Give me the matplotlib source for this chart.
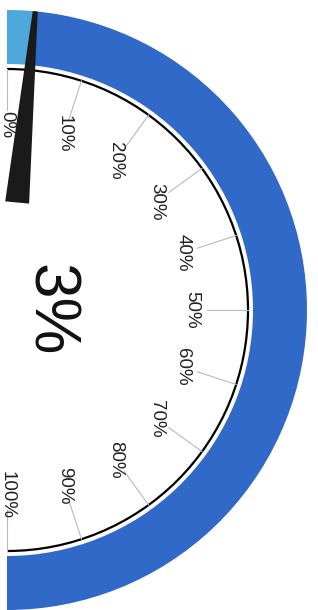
import numpy as np
import matplotlib
matplotlib.use('Agg')
import matplotlib.pyplot as plt
from matplotlib.patches import Wedge, Arc, Polygon

plt.rcParams['font.family'] = ['Liberation Sans', 'DejaVu Sans']

# gauge data
value = 3
tick_values = [0, 10, 20, 30, 40, 50, 60, 70, 80, 90, 100]
tick_labels = ['%d%%' % v for v in tick_values]

dark_blue = '#3069c7'
light_blue = '#4ea8dc'

fig = plt.figure(figsize=(3.18, 6.10), dpi=100)
ax = fig.add_axes([0, 0, 1, 1])
ax.set_xlim(0, 318)
ax.set_ylim(0, 610)
ax.set_aspect('equal')
ax.axis('off')

cx, cy = 7, 300
r_out, r_in, r_line = 300, 246, 241

def ang(v):
    # 0% at top, 100% at bottom (gauge turned on its side)
    return 90 - 1.8 * v

# band
ax.add_patch(Wedge((cx, cy), r_out, ang(value), ang(0), width=r_out - r_in,
                   facecolor=light_blue, edgecolor='none'))
ax.add_patch(Wedge((cx, cy), r_out, ang(100), ang(value), width=r_out - r_in,
                   facecolor=dark_blue, edgecolor='none'))
ax.add_patch(Arc((cx, cy), 2 * r_line, 2 * r_line, theta1=-90, theta2=90,
                 color='black', lw=1.6))

# ticks and labels
for v, lab in zip(tick_values, tick_labels):
    t = np.radians(ang(v))
    ax.plot([cx + 200 * np.cos(t), cx + r_line * np.cos(t)],
            [cy + 200 * np.sin(t), cy + r_line * np.sin(t)],
            color='#b4bacd', lw=0.8)
    ax.text(cx + 185 * np.cos(t), cy + 185 * np.sin(t), lab, rotation=-90,
            ha='center', va='center', fontsize=13.5, color='#222222')

# needle
t = np.radians(ang(value))
u = np.array([np.cos(t), np.sin(t)])
n = np.array([-np.sin(t), np.cos(t)])
c = np.array([cx, cy])
pts = [c + 108 * u + 12 * n, c + 300 * u + 2.5 * n,
       c + 300 * u - 2.5 * n, c + 108 * u - 12 * n]
ax.add_patch(Polygon(pts, closed=True, facecolor='#1a1a1a', edgecolor='none'))

# value text
ax.text(cx + 42, cy, '%d%%' % value, rotation=-90, ha='center', va='center',
        fontsize=46, color='#111111')

plt.savefig('out.png', dpi=100)
